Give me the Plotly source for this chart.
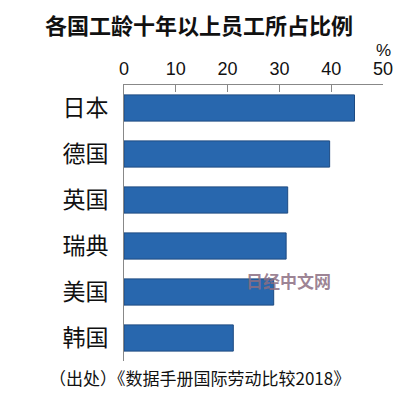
import plotly.graph_objects as go

countries = ["日本", "德国", "英国", "瑞典", "美国", "韩国"]
values = [44.5, 39.7, 31.6, 31.3, 28.9, 21.1]
x_ticks = [0, 10, 20, 30, 40, 50]

title_text = "各国工龄十年以上员工所占比例"
source_text = "（出处）《数据手册国际劳动比较2018》"
watermark_text = "日经中文网"

fig = go.Figure()
fig.add_trace(go.Bar(
    y=countries,
    x=values,
    orientation="h",
    marker=dict(color="#2867ae", line=dict(color="#1d4a82", width=1)),
    hoverinfo="x+y",
))

num_font = "Liberation Sans Narrow, Liberation Sans, Arial, sans-serif"
cjk_font = "Noto Sans CJK SC, Noto Sans CJK JP, sans-serif"

fig.update_layout(
    width=400,
    height=399,
    margin=dict(l=124, r=17, t=85, b=38),
    paper_bgcolor="white",
    plot_bgcolor="white",
    bargap=0.43,
    showlegend=False,
    xaxis=dict(
        side="top",
        range=[0, 50],
        tickvals=x_ticks,
        ticktext=[str(v) for v in x_ticks],
        ticks="inside",
        ticklen=7,
        tickcolor="#888888",
        tickwidth=1,
        showline=True,
        linecolor="#888888",
        linewidth=1,
        showgrid=False,
        zeroline=False,
        ticklabelstandoff=2,
        tickfont=dict(family=num_font, size=18, color="#111111"),
        fixedrange=True,
        automargin=False,
    ),
    yaxis=dict(
        categoryorder="array",
        categoryarray=countries,
        autorange="reversed",
        showline=True,
        linecolor="#888888",
        linewidth=1,
        ticks="",
        showgrid=False,
        zeroline=False,
        ticklabelstandoff=10,
        tickfont=dict(family=cjk_font, size=23, color="#111111"),
        fixedrange=True,
        automargin=False,
    ),
    annotations=[
        dict(text="<b>" + title_text + "</b>", xref="paper", yref="paper",
             x=(199 - 124) / 259, y=1 + (85 - 24) / 276, xanchor="center", yanchor="middle",
             showarrow=False, font=dict(family=cjk_font, size=22, color="#111111")),
        dict(text="%", xref="paper", yref="paper",
             x=1.0, y=1 + (85 - 51) / 276, xanchor="center", yanchor="middle",
             showarrow=False, font=dict(family=num_font, size=17, color="#111111")),
        dict(text=source_text, xref="paper", yref="paper",
             x=(47 - 124) / 259, y=-(377 - 361) / 276, xanchor="left", yanchor="middle",
             showarrow=False, font=dict(family=cjk_font, size=17, color="#111111")),
        dict(text="<b>" + watermark_text + "</b>", xref="paper", yref="paper",
             x=(288 - 124) / 259, y=1 - (280 - 85) / 276, xanchor="center", yanchor="middle",
             showarrow=False, font=dict(family=cjk_font, size=17, color="rgba(140,110,130,0.85)")),
    ],
)

fig.write_html("out.html", config={"displayModeBar": False},
               post_script="document.body.style.margin='0px';document.body.style.overflow='hidden';")
